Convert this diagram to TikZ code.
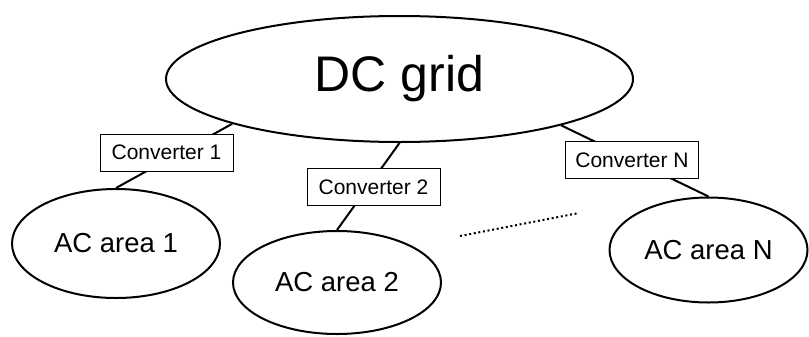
\documentclass[tikz,border=0pt]{standalone}
\usepackage{fontspec}
\setmainfont{Liberation Sans}
\usetikzlibrary{shapes.geometric}
\pgfdeclarelayer{background}
\pgfsetlayers{background,main}
\begin{document}
\begin{tikzpicture}[x=0.75pt,y=-0.75pt,
  area/.style={ellipse,draw,line width=1.5pt,fill=white,inner sep=0pt},
  conv/.style={rectangle,draw,line width=0.75pt,fill=white,inner sep=0pt,
    minimum width=99.75pt,minimum height=27.75pt,font=\fontsize{15.75}{18}\selectfont},
  link/.style={line width=1.5pt}]
\useasboundingbox (0,0) rectangle (809,336);
\node[area,minimum width=350.25pt,minimum height=94.5pt,font=\fontsize{37.5}{44}\selectfont] (dc) at (399.5,79) {DC grid};
\node[area,minimum width=156pt,minimum height=81.75pt,font=\fontsize{20.6}{24}\selectfont] (ac1) at (116,243.5) {AC area 1};
\node[area,minimum width=156pt,minimum height=77.25pt,font=\fontsize{20.6}{24}\selectfont] (ac2) at (337,282.5) {AC area 2};
\node[area,minimum width=148.5pt,minimum height=78.75pt,font=\fontsize{20.6}{24}\selectfont] (acn) at (708.5,250) {AC area N};
\node[conv] (c1) at (166.5,152.5) {Converter 1};
\node[conv] (c2) at (373.5,187) {Converter 2};
\node[conv] (cn) at (632,160) {Converter N};
\coordinate (d1) at (460,236);
\coordinate (d2) at (579,213);
\begin{pgfonlayer}{background}
\draw[link] (dc.195.6) -- (ac1.north);
\draw[link] (dc.south) -- (ac2.north);
\draw[link] (dc.344.6) -- (acn.north);
\end{pgfonlayer}
\draw[line width=1.5pt,dash pattern=on 1.5pt off 2pt] (d1) -- (d2);
\end{tikzpicture}
\end{document}
